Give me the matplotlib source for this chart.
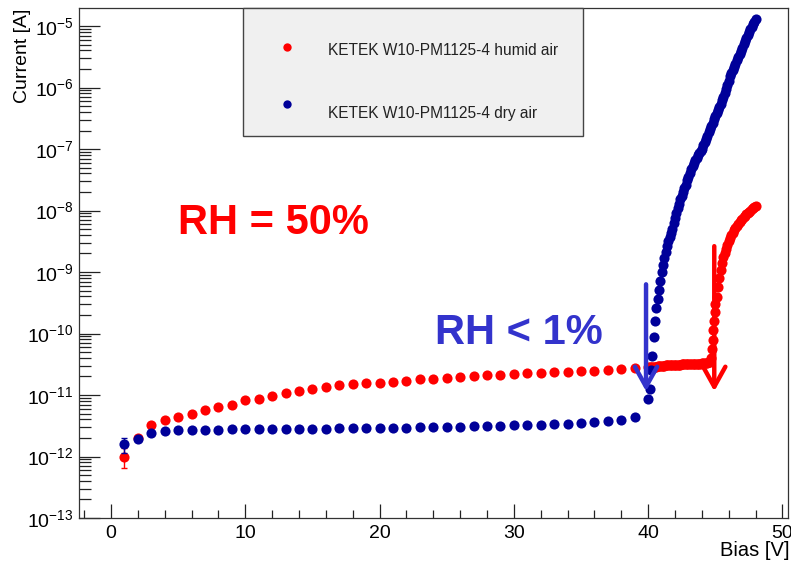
import numpy as np
import matplotlib
matplotlib.use("Agg")
import matplotlib.pyplot as plt
from matplotlib.patches import Rectangle
from matplotlib.ticker import LogLocator, MultipleLocator, NullFormatter

plt.rcParams['font.family'] = ['Liberation Sans', 'DejaVu Sans']
plt.rcParams['mathtext.fontset'] = 'custom'
plt.rcParams['mathtext.rm'] = 'Liberation Sans'

# integer bias steps 1..39 V
bias_low = list(range(1, 40))
humid_low = [1.0e-12, 2.0e-12, 3.2e-12, 3.9e-12, 4.4e-12, 4.9e-12, 5.8e-12, 6.4e-12,
             7.0e-12, 8.2e-12, 8.7e-12, 9.6e-12, 1.06e-11, 1.15e-11, 1.26e-11, 1.34e-11,
             1.44e-11, 1.52e-11, 1.55e-11, 1.58e-11, 1.64e-11, 1.70e-11, 1.79e-11, 1.85e-11,
             1.88e-11, 1.93e-11, 2.00e-11, 2.08e-11, 2.13e-11, 2.18e-11, 2.24e-11, 2.30e-11,
             2.35e-11, 2.41e-11, 2.44e-11, 2.50e-11, 2.57e-11, 2.63e-11, 2.77e-11]
dry_low = [1.58e-12, 1.96e-12, 2.45e-12, 2.62e-12, 2.68e-12, 2.68e-12, 2.66e-12, 2.68e-12,
           2.78e-12, 2.82e-12, 2.82e-12, 2.82e-12, 2.82e-12, 2.82e-12, 2.82e-12, 2.82e-12,
           2.93e-12, 2.90e-12, 2.90e-12, 2.92e-12, 2.92e-12, 2.96e-12, 3.00e-12, 3.00e-12,
           3.04e-12, 3.04e-12, 3.08e-12, 3.12e-12, 3.16e-12, 3.20e-12, 3.23e-12, 3.31e-12,
           3.35e-12, 3.44e-12, 3.53e-12, 3.61e-12, 3.75e-12, 3.89e-12, 4.42e-12]
humid_err_1V = 0.35e-12
dry_err_1V = 0.42e-12

# fine scan 40.0 .. 48.0 V in 0.1 V steps (log10 of current)
bias_fine = [v / 10 for v in range(400, 481)]
dry_log_fine = [
    -11.06, -10.91, -10.60, -10.36, -10.05, -9.80, -9.58, -9.44, -9.30, -9.15,   # 40.x
    -9.00, -8.88, -8.78, -8.67, -8.58, -8.50, -8.43, -8.36, -8.30, -8.21,       # 41.x
    -8.12, -8.04, -7.96, -7.89, -7.82, -7.76, -7.70, -7.64, -7.58, -7.51,       # 42.x
    -7.45, -7.39, -7.33, -7.27, -7.22, -7.18, -7.14, -7.10, -7.07, -7.03,       # 43.x
    -7.00, -6.94, -6.89, -6.84, -6.79, -6.73, -6.68, -6.63, -6.58, -6.52,       # 44.x
    -6.47, -6.42, -6.37, -6.31, -6.26, -6.20, -6.15, -6.09, -6.03, -5.96,       # 45.x
    -5.89, -5.82, -5.76, -5.71, -5.66, -5.61, -5.56, -5.50, -5.45, -5.40,       # 46.x
    -5.35, -5.29, -5.24, -5.19, -5.14, -5.10, -5.05, -5.01, -4.97, -4.93,       # 47.x
    -4.89]                                                                      # 48.0
humid_log_fine = [
    -10.55, -10.55, -10.55, -10.54, -10.54, -10.54, -10.54, -10.53, -10.53, -10.53,
    -10.53, -10.53, -10.53, -10.52, -10.52, -10.52, -10.52, -10.52, -10.52, -10.51,
    -10.51, -10.51, -10.51, -10.51, -10.51, -10.50, -10.50, -10.50, -10.50, -10.50,
    -10.50, -10.50, -10.50, -10.49, -10.49, -10.49, -10.49, -10.49, -10.49, -10.49,
    -10.48, -10.48, -10.48, -10.48, -10.48, -10.47, -10.46, -10.40, -10.10, -9.80,
    -9.52, -9.40, -9.25, -9.10, -8.97, -8.86, -8.76, -8.69, -8.62, -8.56,
    -8.50, -8.45, -8.40, -8.36, -8.32, -8.28, -8.25, -8.22, -8.19, -8.16,
    -8.14, -8.11, -8.09, -8.06, -8.04, -8.02, -8.00, -7.98, -7.96, -7.94,
    -7.93]
# extra points taken on the steep edge of the humid curve
bias_humid_edge = [44.75, 44.85, 44.95]
humid_log_edge = [-10.25, -9.95, -9.65]

red = '#ff0000'
navy = '#000099'
txt_blue = '#3333cc'

fig = plt.figure(figsize=(7.91, 5.62), dpi=100)
ax = fig.add_axes([79/791, 1 - 518/562, 709/791, 510/562])

ms = 7.3
ax.plot(bias_low, humid_low, 'o', color=red, ms=ms, mew=0)
ax.plot(bias_fine, 10.0 ** np.array(humid_log_fine), 'o', color=red, ms=ms, mew=0)
ax.plot(bias_humid_edge, 10.0 ** np.array(humid_log_edge), 'o', color=red, ms=ms, mew=0)
ax.errorbar([bias_low[0]], [humid_low[0]], yerr=[humid_err_1V], fmt='none',
            ecolor=red, elinewidth=1, capsize=2.5)
ax.errorbar([bias_low[0]], [dry_low[0]], yerr=[dry_err_1V], fmt='none',
            ecolor=navy, elinewidth=1, capsize=2.5)
ax.plot(bias_low, dry_low, 'o', color=navy, ms=ms, mew=0)
ax.plot(bias_fine, 10.0 ** np.array(dry_log_fine), 'o', color=navy, ms=ms, mew=0)

ax.set_yscale('log')
ax.set_xlim(-2.38, 50.41)
ax.set_ylim(1e-13, 10 ** -4.707)

ax.xaxis.set_major_locator(MultipleLocator(10))
ax.xaxis.set_minor_locator(MultipleLocator(2))
ax.yaxis.set_major_locator(LogLocator(base=10, numticks=20))
ax.yaxis.set_minor_locator(LogLocator(base=10, subs=np.arange(2, 10), numticks=20))
ax.yaxis.set_minor_formatter(NullFormatter())

ax.tick_params(axis='both', which='both', direction='in', color='#222222',
               labelsize=14, top=False, right=False)
ax.tick_params(axis='y', which='major', length=15, width=0.9, pad=4)
ax.tick_params(axis='y', which='minor', length=8.5, width=0.9)
ax.tick_params(axis='x', which='major', length=10, width=0.9, pad=5)
ax.tick_params(axis='x', which='minor', length=5.8, width=0.9)
for s in ax.spines.values():
    s.set_color('#333333')
    s.set_linewidth(0.9)

ax.set_xlabel('Bias [V]', fontsize=14.5, loc='right')
ax.xaxis.set_label_coords(1.0015, -0.045)
ax.set_ylabel('Current [A]', fontsize=14, loc='top')
ax.yaxis.set_label_coords(-0.0677, 0.999)

# annotations
ax.text(0.1396, 0.557, 'RH = 50%', transform=ax.transAxes, color=red,
        fontsize=30, fontweight='bold', va='baseline', ha='left')
ax.text(0.5021, 0.3412, 'RH < 1%', transform=ax.transAxes, color=txt_blue,
        fontsize=30, fontweight='bold', va='baseline', ha='left')
ax.annotate('', xy=(39.84, 10 ** -10.94), xytext=(39.84, 10 ** -9.20),
            arrowprops=dict(arrowstyle='->,head_length=1.44,head_width=0.8',
                            color=txt_blue, lw=3.2, shrinkA=0, shrinkB=0,
                            mutation_scale=10))
ax.annotate('', xy=(44.92, 10 ** -10.94), xytext=(44.92, 10 ** -8.58),
            arrowprops=dict(arrowstyle='->,head_length=1.44,head_width=0.8',
                            color=red, lw=3.2, shrinkA=0, shrinkB=0,
                            mutation_scale=10))

# legend box like ROOT TLegend
ax.add_patch(Rectangle((0.2313, 0.749), 0.4796, 0.251, transform=ax.transAxes,
                       facecolor='#f0f0f0', edgecolor='#444444', lw=1.0,
                       clip_on=False, zorder=5))
ax.plot([0.2934], [0.9235], 'o', color=red, ms=6, mew=0, transform=ax.transAxes,
        clip_on=False, zorder=6)
ax.plot([0.2934], [0.8118], 'o', color=navy, ms=6, mew=0, transform=ax.transAxes,
        clip_on=False, zorder=6)
ax.text(0.3512, 0.9176, 'KETEK W10-PM1125-4 humid air', transform=ax.transAxes,
        fontsize=11.2, va='center', ha='left', color='#222222', zorder=6)
ax.text(0.3512, 0.794, 'KETEK W10-PM1125-4 dry air', transform=ax.transAxes,
        fontsize=11.2, va='center', ha='left', color='#222222', zorder=6)

fig.savefig('out.png', dpi=100)
